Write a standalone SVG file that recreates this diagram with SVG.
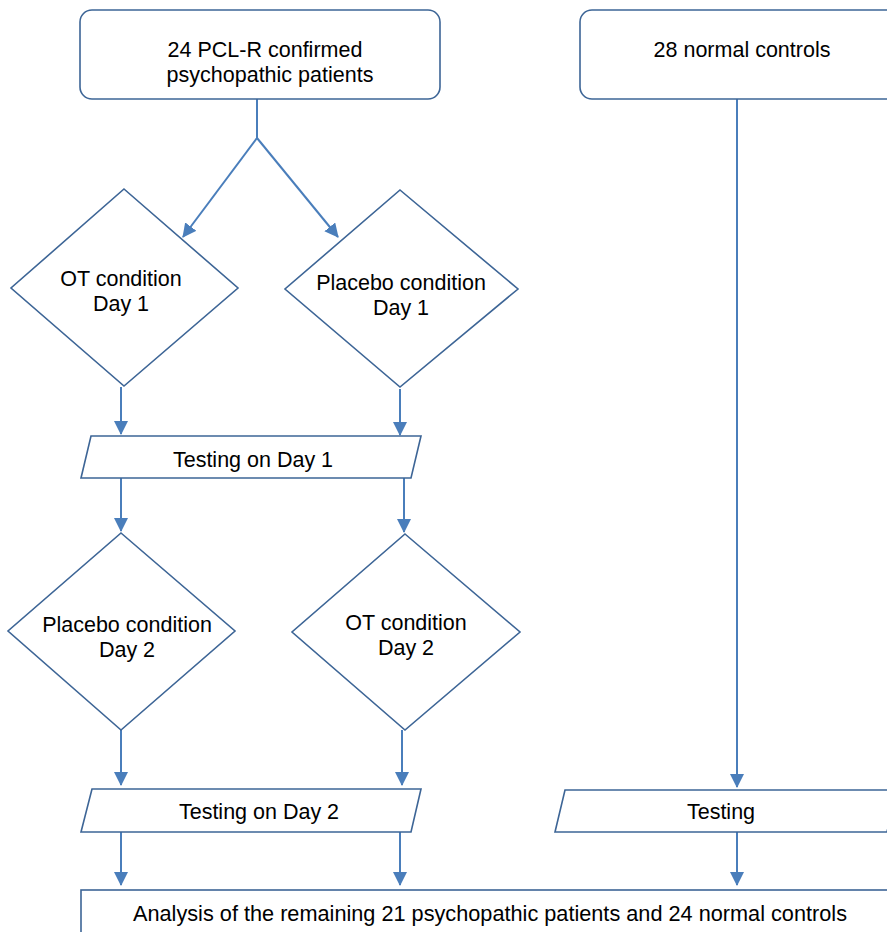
<svg xmlns="http://www.w3.org/2000/svg" width="887" height="932" viewBox="0 0 887 932">
<style>
.n{fill:#fff;stroke:#3d6596;stroke-width:1.6}
.c{fill:none;stroke:#4a7ebb;stroke-width:2}
.t{font-family:"Liberation Sans",Arial,sans-serif;font-size:21.5px;fill:#000;text-anchor:middle}
</style>
<defs>
<marker id="ah" viewBox="0 0 14 14" refX="13" refY="7" markerWidth="14" markerHeight="14" markerUnits="userSpaceOnUse" orient="auto">
<path d="M0,0 L14,7 L0,14 Z" fill="#4a7ebb"/>
</marker>
</defs>
<rect width="887" height="932" fill="#fff"/>
<g id="connectors">
<polyline class="c" points="257,99 257,138"/>
<line class="c" x1="257" y1="138" x2="183" y2="237" marker-end="url(#ah)"/>
<line class="c" x1="257" y1="138" x2="338" y2="237" marker-end="url(#ah)"/>
<line class="c" x1="737" y1="99" x2="737" y2="787" marker-end="url(#ah)"/>
<line class="c" x1="121" y1="387" x2="121" y2="434" marker-end="url(#ah)"/>
<line class="c" x1="400" y1="389" x2="400" y2="435" marker-end="url(#ah)"/>
<line class="c" x1="121" y1="478" x2="121" y2="531" marker-end="url(#ah)"/>
<line class="c" x1="404" y1="478" x2="404" y2="532" marker-end="url(#ah)"/>
<line class="c" x1="121" y1="730" x2="121" y2="785" marker-end="url(#ah)"/>
<line class="c" x1="402" y1="730" x2="402" y2="785" marker-end="url(#ah)"/>
<line class="c" x1="121" y1="832" x2="121" y2="885" marker-end="url(#ah)"/>
<line class="c" x1="400" y1="832" x2="400" y2="885" marker-end="url(#ah)"/>
<line class="c" x1="737" y1="832" x2="737" y2="885" marker-end="url(#ah)"/>
</g>
<g id="patients">
<rect class="n" x="80" y="10" width="360" height="89" rx="12"/>
<text class="t" x="265" y="57">24 PCL-R confirmed</text>
<text class="t" x="270" y="82">psychopathic patients</text>
</g>
<g id="controls">
<rect class="n" x="580" y="10" width="330" height="89" rx="12"/>
<text class="t" x="742" y="57">28 normal controls</text>
</g>
<g id="ot-day1">
<polygon class="n" points="124,189 238,288 124,386 11,288"/>
<text class="t" x="121" y="286">OT condition</text>
<text class="t" x="121" y="311">Day 1</text>
</g>
<g id="placebo-day1">
<polygon class="n" points="400,190 518,289 400,387 285,289"/>
<text class="t" x="401" y="290">Placebo condition</text>
<text class="t" x="401" y="315">Day 1</text>
</g>
<g id="testing-day1">
<polygon class="n" points="91,436 421,436 411,478 81,478"/>
<text class="t" x="253" y="467">Testing on Day 1</text>
</g>
<g id="placebo-day2">
<polygon class="n" points="121,533 235,631 121,730 8,631"/>
<text class="t" x="127" y="632">Placebo condition</text>
<text class="t" x="127" y="657">Day 2</text>
</g>
<g id="ot-day2">
<polygon class="n" points="405,534 520,632 405,730 292,632"/>
<text class="t" x="406" y="630">OT condition</text>
<text class="t" x="406" y="655">Day 2</text>
</g>
<g id="testing-day2">
<polygon class="n" points="92,789 421,789 411,832 81,832"/>
<text class="t" x="259" y="819">Testing on Day 2</text>
</g>
<g id="testing">
<polygon class="n" points="565,790 897,790 887,832 555,832"/>
<text class="t" x="721" y="819">Testing</text>
</g>
<g id="analysis">
<rect class="n" x="81" y="890" width="820" height="60"/>
<text class="t" x="490" y="921" textLength="714" lengthAdjust="spacingAndGlyphs">Analysis of the remaining 21 psychopathic patients and 24 normal controls</text>
</g>
</svg>
